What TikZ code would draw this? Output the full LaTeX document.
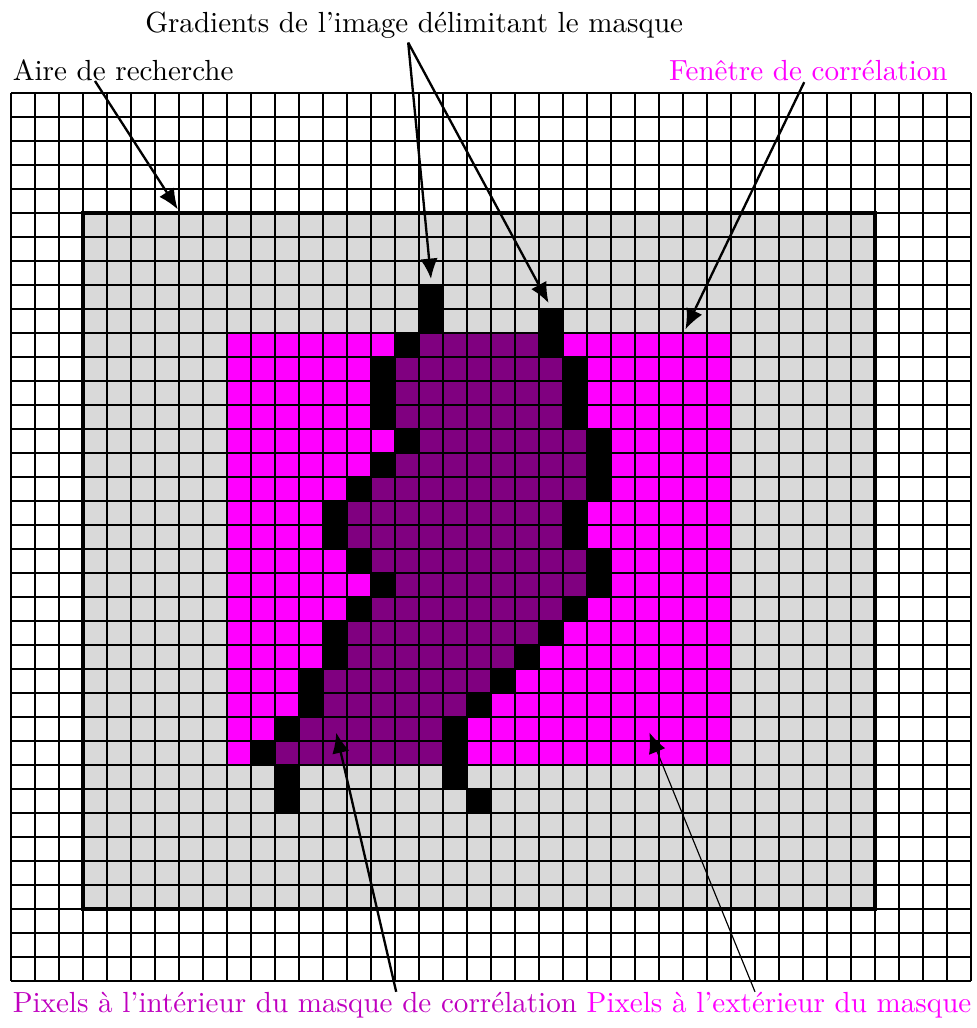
\documentclass[tikz,border=0pt]{standalone}
\usepackage{tikz}
\usetikzlibrary{arrows.meta}

\definecolor{pourpre}{RGB}{128,0,128}
\definecolor{fondgris}{RGB}{217,217,217}
\definecolor{fenetrerose}{RGB}{255,0,255}
\definecolor{texterose}{RGB}{191,0,191}

\begin{document}
\begin{tikzpicture}[x=0.29cm,y=0.29cm,
  gridline/.style={line width=0.4pt},
  cadre/.style={line width=1.5pt},
  fleche/.style={thick,-{Latex[length=7pt,width=6pt]}},
  flechefine/.style={thin,-{Latex[length=7pt,width=6pt]}},
  texte/.style={inner sep=0pt}]
  \useasboundingbox (-0.458,-1.958) rectangle (40.21,40.875);
  % aire de recherche et fenetre de correlation
  \fill[fondgris] (3,3) rectangle (36,32);
  \fill[fenetrerose] (9,9) rectangle (30,27);
  % masque : gradient a gauche, interieur, gradient a droite
  \foreach \j/\l/\r in {26/16/22,25/15/23,24/15/23,23/15/23,22/16/24,21/15/24,
      20/14/24,19/13/23,18/13/23,17/14/24,16/15/24,15/14/23,14/13/22,13/13/21,
      12/12/20,11/12/19,10/11/18,9/10/18}{
    \fill (\l,\j) rectangle ++(1,1);
    \fill[pourpre] (\l+1,\j) rectangle (\r,\j+1);
    \fill (\r,\j) rectangle ++(1,1);
  }
  \foreach \i/\j in {17/27,17/28,22/27,11/8,11/7,18/8,19/7}
    \fill (\i,\j) rectangle ++(1,1);
  \draw[gridline,step=1] (0,0) grid (40,37);
  \draw[cadre] (3,3) rectangle (36,32);

  % legendes
  \node[texte,anchor=base] (gradients) at (16.8,39.5) {Gradients de l'image délimitant le masque};
  \node[texte,anchor=base west] (aire) at (0.05,37.5) {Aire de recherche};
  \node[texte,anchor=base east,text=fenetrerose] (fenetre) at (39.05,37.5) {Fenêtre de corrélation};
  \node[texte,anchor=base west,text=texterose] (interieur) at (0.05,-1.33) {Pixels à l'intérieur du masque de corrélation};
  \node[texte,anchor=base east,text=fenetrerose] (exterieur) at (40.04,-1.33) {Pixels à l'extérieur du masque};

  \coordinate (aire-pt) at (3.5,37.5);
  \coordinate (aire-fin) at (6.95,32.15);
  \coordinate (grad-pt) at (16.55,39.1);
  \coordinate (grad-g) at (17.5,29.25);
  \coordinate (grad-d) at (22.4,28.25);
  \coordinate (fen-pt) at (33.05,37.45);
  \coordinate (fen-fin) at (28.1,27.15);
  \coordinate (int-pt) at (16.05,-0.45);
  \coordinate (int-fin) at (13.55,10.35);
  \coordinate (ext-pt) at (31.0,-0.45);
  \coordinate (ext-fin) at (26.6,10.35);

  \draw[fleche] (aire-pt) -- (aire-fin);
  \draw[fleche] (grad-pt) -- (grad-g);
  \draw[fleche] (grad-pt) -- (grad-d);
  \draw[fleche] (fen-pt) -- (fen-fin);
  \draw[fleche] (int-pt) -- (int-fin);
  \draw[flechefine] (ext-pt) -- (ext-fin);
\end{tikzpicture}
\end{document}
